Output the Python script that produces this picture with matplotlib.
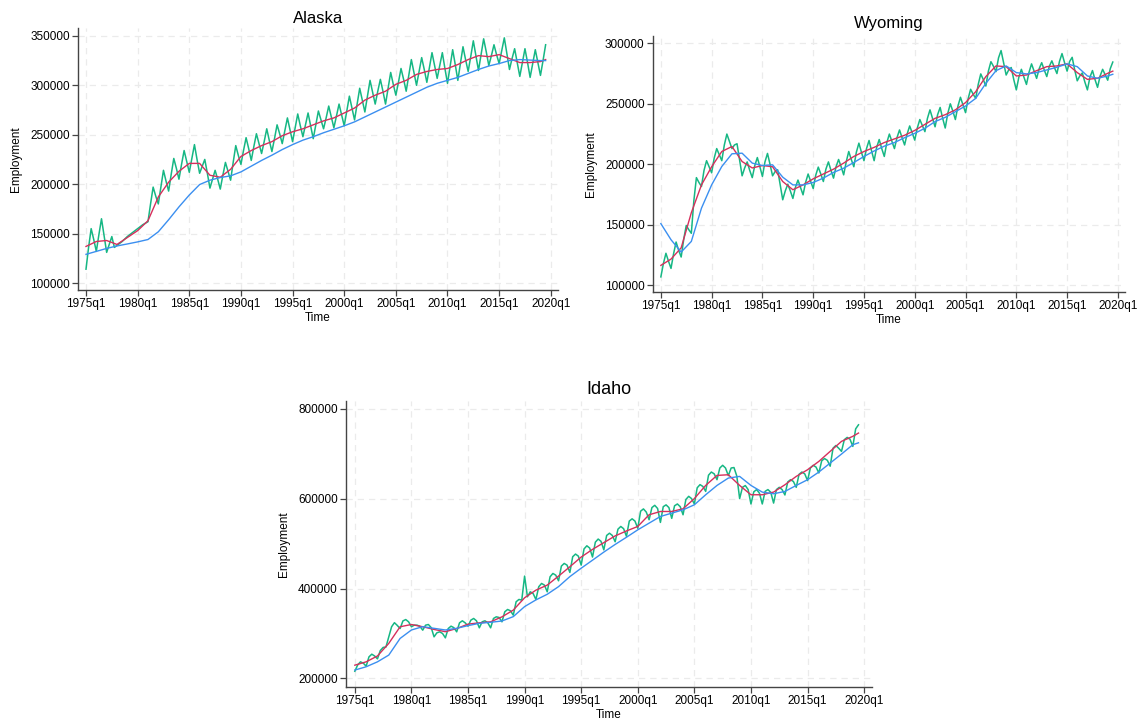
import numpy as np
import matplotlib
matplotlib.use('Agg')
import matplotlib.pyplot as plt

plt.rcParams['font.family'] = ['Liberation Sans', 'DejaVu Sans']

# time axis: quarters from 1975q1 to 2019q3
years = list(range(1975, 2020))
tick_labels = [f'{y}q1' for y in range(1975, 2021, 5)]

# raw quarterly employment (thousands), one row per year q1..q4
alaska_raw = [
    114, 136, 155, 144,  132, 149, 165, 148,  131, 139, 147, 136,  138, 140, 142, 144.5,
    147, 149, 151, 153,  155, 157, 159, 160.5,  162, 180, 197, 188,  180, 197, 214, 203,
    193, 210, 226, 216,  205, 220, 234, 223,  212, 226, 240, 225,  211, 218, 225, 211,
    196, 205, 214, 205,  195, 209, 222, 213,  204, 222, 239, 229,  220, 234, 247, 236,
    224, 238, 251, 241,  231, 243, 256, 244,  233, 246, 260, 251,  241, 254, 267, 255,
    243, 257, 271, 259,  248, 260, 272, 259,  246, 260, 274, 265,  256, 267, 279, 268,
    257, 269, 281, 270,  259, 274, 289, 277,  265, 281, 297, 285,  273, 289, 305, 293,
    281, 294, 306, 294,  281, 297, 313, 301,  290, 303, 317, 306,  294, 310, 326, 313,
    300, 314, 328, 316,  303, 318, 333, 320,  307, 320, 333, 317,  302, 319, 336, 321,
    305, 322, 339, 326,  314, 329, 345, 330,  315, 331, 347, 334,  320, 330, 341, 331,
    322, 335, 348, 332,  316, 327, 337, 323,  309, 323, 337, 323,  308, 322, 336, 323,
    310, 325, 341,
]
wyoming_raw = [
    107, 118, 126.5, 120,  114, 126, 135.8, 129,  123.4, 138, 149.5, 146,  143, 170, 189, 185,
    181.7, 195, 203, 198,  193, 205, 213, 208,  203, 216, 225, 219,  213, 216, 217, 204,
    190.5, 197, 202, 195,  189, 199, 205.6, 198,  190, 202, 209, 200,  190.5, 194, 195.5, 183,
    170.7, 178, 183.6, 178,  171.8, 181, 187, 181,  174.8, 185, 192, 186,  180, 191, 197.7, 192,
    185.8, 196, 202, 195,  188.6, 198, 204, 198,  191.3, 202, 210.6, 204,  198, 210, 217.5, 210,
    203, 213, 219.7, 211,  203, 214, 220.5, 213,  206.5, 218, 225, 219,  213, 222, 228.4, 222,
    216, 225, 231.7, 226,  220, 230, 237, 232,  227, 238, 245, 238,  231, 241, 247, 238,
    230, 242, 250, 244,  237, 248, 255.4, 249,  242.7, 254, 262, 258,  254.5, 266, 274.7, 270,
    264.7, 277, 284.8, 281,  276.6, 288, 294, 284,  273.8, 278, 280, 270,  261.5, 272, 278.5, 272,
    266, 276, 283, 277,  271, 279, 284, 278,  272.5, 281, 285.5, 280,  275, 285, 291.5, 284,
    277, 285, 288.4, 278,  269, 273, 275.5, 268,  261.5, 272, 277.5, 270,  263.6, 273, 278.5, 274,
    269.5, 279, 284.5,
]
idaho_raw = [
    216, 230, 237, 234,  227.3, 248, 254, 250,  243.6, 262, 269, 270,  292.6, 315, 324, 318,
    311, 328, 331, 326,  315, 318.5, 318.5, 316,  307.4, 318.5, 320, 313,  292.6, 301.5, 303.7, 300,
    290.3, 311, 316.3, 313,  303.7, 323.7, 328.2, 323.7,  316.3, 329.7, 333.4, 328.2,  312.6, 326, 328.2, 323.7,
    312.6, 333.4, 337.1, 335.6,  326, 348.3, 353.4, 350.5,  340.8, 370.5, 375.7, 374.2,  427.6, 381.6, 392.7, 389,
    375.7, 403.9, 411.3, 407.6,  392.7, 426.1, 433.5, 429.8,  417.2, 449.9, 455.8, 452,  435.8, 470.7, 476.6, 472,
    452, 488, 495, 490,  470, 503, 510, 505,  486, 518, 523, 518,  504, 532, 538, 533,
    516, 550, 555, 550,  534, 572, 577, 570,  553, 580, 585, 578,  547, 582, 586, 580,
    556, 584, 588, 582,  564, 598, 605, 600,  588, 624, 631, 627,  616, 652, 659, 655,
    642, 668, 674, 668,  651, 668, 669, 650,  600, 625, 629, 620,  588, 615, 620, 612,
    588, 616, 620, 614,  590, 620, 625, 620,  608, 637, 642, 638,  625, 654, 659, 655,
    640, 668, 674, 670,  657, 684, 689, 685,  672, 712, 718, 712,  705, 731, 736, 732,
    716, 755, 764,
]

# seasonally adjusted series, value at q1 of each year plus the last quarter
alaska_sa = [137, 142, 143, 139, 146, 153, 163, 187, 202, 213, 221, 221, 209, 207, 215,
             228, 234, 239, 243, 249, 253, 256, 260, 264, 267, 272, 277, 285, 290, 294,
             301, 305, 311, 314, 316, 317, 321, 326, 330, 329, 331, 327, 323, 323, 324, 326]
wyoming_sa = [116.5, 121.7, 131, 160, 183, 198, 210.6, 214.7, 202.3, 197, 199, 198, 185.8,
              179, 183, 188, 192, 196, 201, 206.5, 210.6, 214, 218, 221, 224, 228, 233, 238,
              241, 245, 251, 260, 272.5, 281.3, 280.7, 273, 273.8, 277.4, 280.7, 281.3, 283,
              275.8, 270.2, 271.1, 275.2, 277]
idaho_sa = [229.5, 237, 250, 278, 315, 320, 315, 309, 304, 311, 320.8, 323.7, 326, 337, 352,
            379.4, 396.4, 407.6, 427.6, 448.4, 470, 487, 502, 517, 528, 538, 564, 571.3,
            571.3, 577.3, 600, 629.3, 651.5, 653, 629.2, 608.5, 608.5, 614.4, 630.7, 649.3,
            664.1, 682.7, 705, 727.2, 738.4, 745.7]

# trend series, same points
alaska_trend = [129, 132, 135, 137.5, 139.5, 141.6, 144, 151.8, 164, 177, 189, 199.6, 204,
                206.7, 208.4, 212.4, 218.2, 224, 229.3, 235, 240, 244.5, 248, 252, 255.5,
                259, 263, 268, 273, 278, 283, 288, 293, 298, 302, 305, 308, 312, 316, 319.5,
                322, 325, 326, 325.5, 325, 325]
wyoming_trend = [151, 137.7, 127.5, 136.3, 163.8, 183, 198.2, 208.7, 209.2, 201, 199, 199.6,
                 189.4, 183, 183, 185, 188.6, 193.3, 196.8, 201.5, 206.5, 211, 215, 218, 222,
                 225.6, 229.8, 235.3, 238.8, 243.5, 248.2, 254.5, 266.9, 277.4, 281.3, 275.8,
                 274.7, 275.8, 278, 280.2, 283, 280.7, 273, 271.1, 273, 274.4]
idaho_trend = [218.7, 226, 237, 252, 289, 307.8, 315.2, 311.5, 307.8, 311.5, 317.5, 322.6,
               324.9, 327.8, 337.5, 359.8, 374.7, 387.2, 404.2, 426.5, 445.2, 463, 481, 498,
               514, 530.5, 545.4, 560.2, 567.6, 575, 586.2, 608.5, 629.2, 645.6, 649.3, 629.2,
               614.4, 610.7, 615.9, 629.2, 641.9, 659, 679, 699, 719.8, 724]

GREEN = '#16b784'
RED = '#d62f5c'
BLUE = '#3b8ff0'


def draw(ax, title, raw, sa, trend, yticks, ylim, tsize, tpad):
    q = np.arange(len(raw))
    qa = [4 * i for i in range(len(years))] + [len(raw) - 1]
    ax.plot(q, np.array(raw) * 1000, color=GREEN, lw=1.1)
    ax.plot(qa, np.array(sa) * 1000, color=RED, lw=1.0)
    ax.plot(qa, np.array(trend) * 1000, color=BLUE, lw=1.0)

    ax.set_xlim(-3.1, 182.8)
    ax.set_ylim(*ylim)
    ax.set_xticks(range(0, 181, 20))
    ax.set_xticklabels(tick_labels)
    ax.set_yticks(yticks)
    ax.set_yticklabels([str(v) for v in yticks])
    ax.grid(True, ls=(0, (5, 4)), color='#ebebeb', lw=0.9)
    ax.set_axisbelow(True)
    for s in ['top', 'right']:
        ax.spines[s].set_visible(False)
    for s in ['left', 'bottom']:
        ax.spines[s].set_color('#444444')
        ax.spines[s].set_linewidth(1.0)
    ax.tick_params(direction='out', length=4, width=0.9, color='#444444', labelsize=8.5, pad=2)
    ax.set_title(title, fontsize=tsize, pad=tpad)
    ax.set_xlabel('Time', fontsize=8.5, labelpad=1)
    ax.set_ylabel('Employment', fontsize=8.5, labelpad=6)


fig = plt.figure(figsize=(11.47, 7.28), dpi=100)

ax1 = fig.add_axes([0.068, 0.6016, 0.4185, 0.360])
draw(ax1, 'Alaska', alaska_raw, alaska_sa, alaska_trend,
     list(range(100000, 350001, 50000)), (92900, 358000), 12, 3.5)

ax2 = fig.add_axes([0.5693, 0.5989, 0.4115, 0.3516])
draw(ax2, 'Wyoming', wyoming_raw, wyoming_sa, wyoming_trend,
     list(range(100000, 300001, 50000)), (94500, 306000), 12, 6)

ax3 = fig.add_axes([0.3017, 0.0563, 0.4586, 0.3929])
draw(ax3, 'Idaho', idaho_raw, idaho_sa, idaho_trend,
     list(range(200000, 800001, 200000)), (181000, 817000), 13, 5)

fig.savefig('out.png', dpi=100)
